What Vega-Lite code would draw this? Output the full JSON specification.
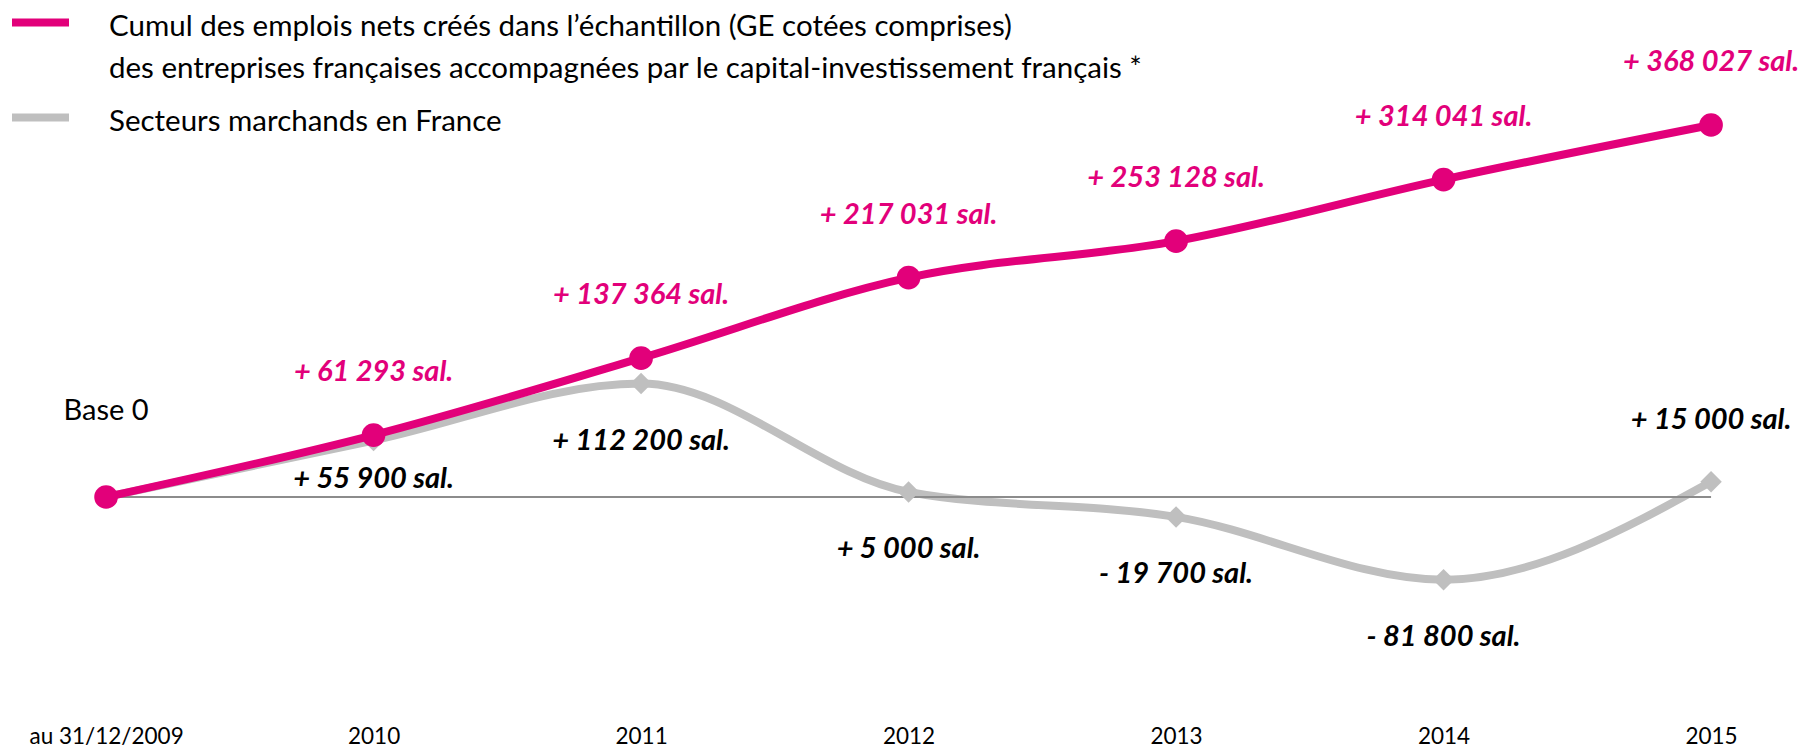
{
  "$schema": "https://vega.github.io/schema/vega-lite/v6.json",
  "width": 1804,
  "height": 720,
  "autosize": {"type": "none"},
  "padding": {"left": 0, "top": 0, "right": 0, "bottom": 35},
  "background": "white",
  "config": {
    "view": {"stroke": null},
    "font": "Lato"
  },
  "data": {
    "values": [
      {"period": "au 31/12/2009", "series": "Cumul des emplois nets créés dans l’échantillon (GE cotées comprises) des entreprises françaises accompagnées par le capital-investissement français *", "value": 0, "text": ""},
      {"period": "2010", "series": "Cumul des emplois nets créés dans l’échantillon (GE cotées comprises) des entreprises françaises accompagnées par le capital-investissement français *", "value": 61293, "text": "+ 61 293 sal."},
      {"period": "2011", "series": "Cumul des emplois nets créés dans l’échantillon (GE cotées comprises) des entreprises françaises accompagnées par le capital-investissement français *", "value": 137364, "text": "+ 137 364 sal."},
      {"period": "2012", "series": "Cumul des emplois nets créés dans l’échantillon (GE cotées comprises) des entreprises françaises accompagnées par le capital-investissement français *", "value": 217031, "text": "+ 217 031 sal."},
      {"period": "2013", "series": "Cumul des emplois nets créés dans l’échantillon (GE cotées comprises) des entreprises françaises accompagnées par le capital-investissement français *", "value": 253128, "text": "+ 253 128 sal."},
      {"period": "2014", "series": "Cumul des emplois nets créés dans l’échantillon (GE cotées comprises) des entreprises françaises accompagnées par le capital-investissement français *", "value": 314041, "text": "+ 314 041 sal."},
      {"period": "2015", "series": "Cumul des emplois nets créés dans l’échantillon (GE cotées comprises) des entreprises françaises accompagnées par le capital-investissement français *", "value": 368027, "text": "+ 368 027 sal."},
      {"period": "au 31/12/2009", "series": "Secteurs marchands en France", "value": 0, "text": "Base 0"},
      {"period": "2010", "series": "Secteurs marchands en France", "value": 55900, "text": "+ 55 900 sal."},
      {"period": "2011", "series": "Secteurs marchands en France", "value": 112200, "text": "+ 112 200 sal."},
      {"period": "2012", "series": "Secteurs marchands en France", "value": 5000, "text": "+ 5 000 sal."},
      {"period": "2013", "series": "Secteurs marchands en France", "value": -19700, "text": "- 19 700 sal."},
      {"period": "2014", "series": "Secteurs marchands en France", "value": -81800, "text": "- 81 800 sal."},
      {"period": "2015", "series": "Secteurs marchands en France", "value": 15000, "text": "+ 15 000 sal."}
    ]
  },
  "encoding": {
    "x": {
      "field": "period",
      "type": "ordinal",
      "sort": null,
      "scale": {"type": "point", "padding": 0.372, "align": 0.533},
      "axis": {
        "title": null,
        "domain": false,
        "ticks": false,
        "tickSize": 0,
        "labelAngle": 0,
        "labelFont": "Lato",
        "labelFontSize": 22.5,
        "labelColor": "#000000",
        "labelPadding": 5
      }
    },
    "y": {
      "field": "value",
      "type": "quantitative",
      "scale": {"domain": [-220617, 491690], "nice": false, "zero": false},
      "axis": null
    }
  },
  "layer": [
    {
      "transform": [{"filter": "datum.series == 'Secteurs marchands en France'"}],
      "mark": {"type": "line", "interpolate": "monotone", "strokeWidth": 8, "strokeCap": "butt"},
      "encoding": {
        "color": {
          "field": "series",
          "type": "nominal",
          "scale": {
            "domain": ["Cumul des emplois nets créés dans l’échantillon (GE cotées comprises) des entreprises françaises accompagnées par le capital-investissement français *", "Secteurs marchands en France"],
            "range": ["#E2007A", "#BFBFBF"]
          },
          "legend": {
            "title": null,
            "orient": "none",
            "legendX": 8,
            "legendY": -10,
            "symbolType": "stroke",
            "symbolSize": 3249,
            "symbolStrokeWidth": 8,
            "labelFont": "Lato",
            "labelFontSize": 29.5,
            "labelColor": "#000000",
            "labelLimit": 0,
            "labelOffset": 36,
            "labelBaseline": "top",
            "rowPadding": 2,
            "labelExpr": "split(replace(datum.label, ') des', ')|des'), '|')",
            "encode": {
              "labels": {"update": {"lineHeight": {"value": 42}, "dy": {"value": -10}}}
            }
          }
        }
      }
    },
    {
      "transform": [{"filter": "datum.series == 'Secteurs marchands en France'"}],
      "mark": {"type": "line", "color": "#8C8C8C", "strokeWidth": 2},
      "encoding": {"y": {"datum": 0}}
    },
    {
      "transform": [{"filter": "datum.series == 'Secteurs marchands en France' && datum.period != 'au 31/12/2009'"}],
      "mark": {"type": "point", "shape": "diamond", "filled": true, "size": 460, "color": "#BFBFBF", "opacity": 1}
    },
    {
      "transform": [{"filter": "datum.series != 'Secteurs marchands en France'"}],
      "mark": {"type": "line", "interpolate": "monotone", "strokeWidth": 8, "strokeCap": "butt"},
      "encoding": {
        "color": {"field": "series", "type": "nominal"}
      }
    },
    {
      "transform": [{"filter": "datum.series != 'Secteurs marchands en France'"}],
      "mark": {"type": "point", "shape": "circle", "filled": true, "size": 560, "color": "#E2007A", "opacity": 1}
    },
    {
      "transform": [{"filter": "datum.series != 'Secteurs marchands en France' && datum.text != ''"}],
      "mark": {"type": "text", "dy": -63, "font": "Lato", "fontSize": 29, "fontWeight": "bold", "fontStyle": "italic", "color": "#E2007A"},
      "encoding": {"text": {"field": "text"}}
    },
    {
      "transform": [{"filter": "datum.series == 'Secteurs marchands en France' && (datum.period == '2011' || datum.period == '2012' || datum.period == '2013' || datum.period == '2014')"}],
      "mark": {"type": "text", "dy": 57, "font": "Lato", "fontSize": 29, "fontWeight": "bold", "fontStyle": "italic", "color": "#000000"},
      "encoding": {"text": {"field": "text"}}
    },
    {
      "transform": [{"filter": "datum.series == 'Secteurs marchands en France' && datum.period == '2010'"}],
      "mark": {"type": "text", "dy": 39, "font": "Lato", "fontSize": 29, "fontWeight": "bold", "fontStyle": "italic", "color": "#000000"},
      "encoding": {"text": {"field": "text"}}
    },
    {
      "transform": [{"filter": "datum.series == 'Secteurs marchands en France' && datum.period == '2015'"}],
      "mark": {"type": "text", "dy": -62, "font": "Lato", "fontSize": 29, "fontWeight": "bold", "fontStyle": "italic", "color": "#000000"},
      "encoding": {"text": {"field": "text"}}
    },
    {
      "transform": [{"filter": "datum.series == 'Secteurs marchands en France' && datum.period == 'au 31/12/2009'"}],
      "mark": {"type": "text", "dy": -86, "font": "Lato", "fontSize": 29, "color": "#000000"},
      "encoding": {"text": {"field": "text"}}
    }
  ]
}
